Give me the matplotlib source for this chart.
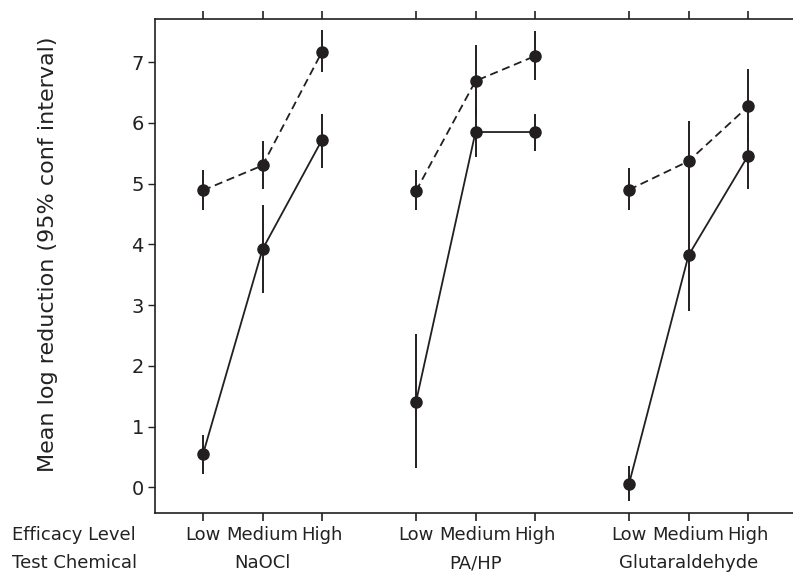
import numpy as np
import matplotlib.pyplot as plt
from matplotlib.transforms import blended_transform_factory

chemicals = ["NaOCl", "PA/HP", "Glutaraldehyde"]
levels = ["Low", "Medium", "High"]

# dashed series (upper curves)
dashed_mean = [4.89, 5.30, 7.17, 4.88, 6.69, 7.10, 4.90, 5.37, 6.27]
dashed_lo = [4.57, 4.91, 6.84, 4.57, 6.11, 6.70, 4.57, 4.70, 5.68]
dashed_hi = [5.22, 5.71, 7.53, 5.22, 7.29, 7.51, 5.26, 6.03, 6.88]

# solid series (lower curves)
solid_mean = [0.55, 3.92, 5.72, 1.41, 5.85, 5.85, 0.06, 3.82, 5.46]
solid_lo = [0.23, 3.20, 5.26, 0.32, 5.44, 5.54, -0.23, 2.90, 4.91]
solid_hi = [0.87, 4.65, 6.14, 2.52, 6.24, 6.15, 0.35, 4.72, 6.00]

INK = "#231f20"
TEXT = "#222222"
GROUP_STEP = 3.58

fig = plt.figure(figsize=(7.93, 5.73), dpi=100)
ax = fig.add_axes([155 / 793, 1 - 513 / 573, 1 - 155 / 793, (513 - 19) / 573])

xpos = [1 + g * GROUP_STEP + k for g in range(3) for k in range(3)]


def draw_series(mean, lo, hi, dashed):
    for g in range(3):
        sl = slice(3 * g, 3 * g + 3)
        x = xpos[sl]
        m = np.array(mean[sl])
        line, = ax.plot(x, m, color=INK, lw=1.3)
        if dashed:
            line.set_dashes((4.5, 2.6))
        ax.vlines(x, lo[sl], hi[sl], color=INK, lw=1.4)
        ax.plot(x, m, "o", color=INK, ms=8, zorder=3)


draw_series(dashed_mean, dashed_lo, dashed_hi, True)
draw_series(solid_mean, solid_lo, solid_hi, False)

ax.set_xlim(0.193, 10.916)
ax.set_ylim(-0.42, 7.71)
ax.set_yticks(range(0, 8))
ax.set_xticks(xpos)
ax.set_xticklabels([])
ax.tick_params(axis="x", which="both", direction="out", length=6, width=1.2,
               top=True, bottom=True, labelbottom=False, color=INK)
ax.tick_params(axis="y", direction="out", length=5, width=1.0, pad=3,
               labelsize=14, color=INK, labelcolor=TEXT)
ax.spines["right"].set_visible(False)
for s in ["left", "top", "bottom"]:
    ax.spines[s].set_linewidth(1.2)
    ax.spines[s].set_color(INK)

ax.set_ylabel("Mean log reduction (95% conf interval)", fontsize=16, color=TEXT)
ax.yaxis.set_label_coords(-0.152, 0.524)

trans = blended_transform_factory(ax.transData, fig.transFigure)
y_lvl = 1 - 535 / 573
y_chem = 1 - 563 / 573
for i, x in enumerate(xpos):
    ax.text(x, y_lvl, levels[i % 3], transform=trans, ha="center", va="center",
            fontsize=13, color=TEXT)
for g, name in enumerate(chemicals):
    ax.text(xpos[3 * g + 1], y_chem, name, transform=trans, ha="center", va="center",
            fontsize=13, color=TEXT)
fig.text(12 / 793, y_lvl, "Efficacy Level", ha="left", va="center", fontsize=13, color=TEXT)
fig.text(12 / 793, y_chem, "Test Chemical", ha="left", va="center", fontsize=13, color=TEXT)

fig.savefig("out.png", dpi=100)
